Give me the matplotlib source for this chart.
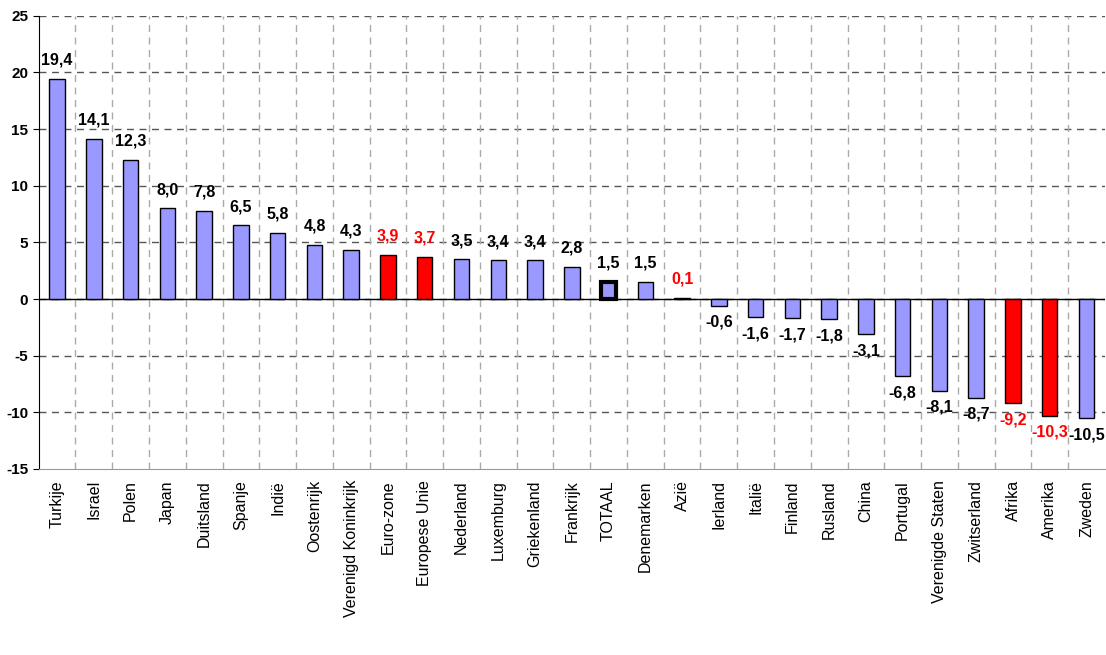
import matplotlib.pyplot as plt
import numpy as np

landen = ['Turkije', 'Israel', 'Polen', 'Japan', 'Duitsland', 'Spanje', 'Indië',
          'Oostenrijk', 'Verenigd Koninkrijk', 'Euro-zone', 'Europese Unie',
          'Nederland', 'Luxemburg', 'Griekenland', 'Frankrijk', 'TOTAAL',
          'Denemarken', 'Azië', 'Ierland', 'Italië', 'Finland', 'Rusland',
          'China', 'Portugal', 'Verenigde Staten', 'Zwitserland', 'Afrika',
          'Amerika', 'Zweden']
waarden = [19.4, 14.1, 12.3, 8.0, 7.8, 6.5, 5.8, 4.8, 4.3, 3.9, 3.7, 3.5, 3.4,
           3.4, 2.8, 1.5, 1.5, 0.1, -0.6, -1.6, -1.7, -1.8, -3.1, -6.8, -8.1,
           -8.7, -9.2, -10.3, -10.5]
rood = ['Euro-zone', 'Europese Unie', 'Azië', 'Afrika', 'Amerika']

fig = plt.figure(figsize=(11.06, 6.55), dpi=100)
ax = fig.add_axes([0.035, 0.284, 0.964, 0.692])
x = np.arange(len(landen))
kleuren = ['red' if l in rood else '#9999ff' for l in landen]
randen = [3 if l == 'TOTAAL' else 1 for l in landen]
ax.bar(x, waarden, width=0.42, color=kleuren, edgecolor='black', linewidth=randen, zorder=3)

for xi, v, l in zip(x, waarden, landen):
    c = 'red' if l in rood else 'black'
    off = 1.0 if v >= 0 else -0.8
    ax.text(xi, v + off, f'{v:.1f}'.replace('.', ','), ha='center',
            va='bottom' if v >= 0 else 'top', fontsize=11.5, fontweight='bold',
            color=c, family='Liberation Sans', zorder=4)

ax.set_xlim(-0.5, len(landen) - 0.5)
ax.set_ylim(-15, 25)
ax.set_yticks(range(-15, 26, 5))
ax.set_yticklabels([str(t) for t in range(-15, 26, 5)], fontsize=11,
                   fontweight='bold', family='Liberation Sans')
for y in range(-10, 26, 5):
    ax.axhline(y, color='#555555', ls=(0, (5, 4)), lw=1, zorder=1)
for xv in np.arange(0.5, len(landen) - 0.5):
    ax.axvline(xv, color='#aaaaaa', ls=(0, (5, 4)), lw=1, zorder=1)
ax.axhline(0, color='black', lw=1, zorder=2)

ax.set_xticks(x)
ax.set_xticklabels(landen, rotation=90, fontsize=11.5, family='Liberation Sans')
ax.tick_params(axis='x', length=0, pad=8)
ax.tick_params(axis='y', length=4, direction='out')
for s in ['top', 'right']:
    ax.spines[s].set_visible(False)
ax.spines['bottom'].set_color('#999999')

fig.savefig('out.png')
